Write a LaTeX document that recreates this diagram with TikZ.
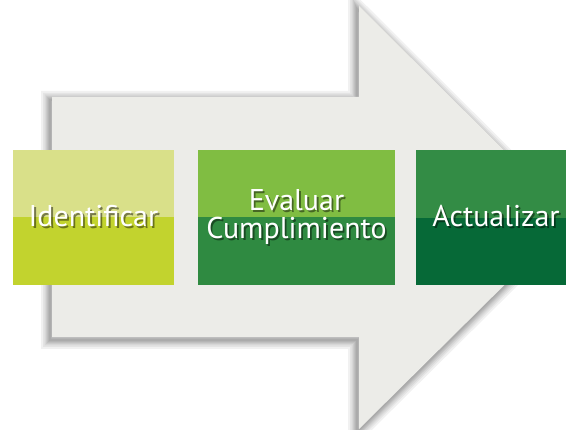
\documentclass[tikz,border=0pt]{standalone}
\usepackage{fontspec}
\setmainfont{PT Sans}
\definecolor{arrowfill}{HTML}{ECECE8}
\definecolor{aTop}{HTML}{D9E089}
\definecolor{aBot}{HTML}{C2D32E}
\definecolor{bTop}{HTML}{80BD42}
\definecolor{bBot}{HTML}{2F8A41}
\definecolor{cTop}{HTML}{338C45}
\definecolor{cBot}{HTML}{066937}
\newcommand\shadowtxt[1]{\makebox[0pt][l]{\kern1.8pt\raisebox{-1.8pt}{\pgfsetfillopacity{0.45}\textcolor{black}{#1}\pgfsetfillopacity{1}}}#1}
\tikzset{
  lbl/.style={text=white, font=\fontsize{30}{28}\selectfont, align=center, inner sep=0pt},
}
\begin{document}
\begin{tikzpicture}[x=1pt,y=-1pt]
\useasboundingbox (0,0) rectangle (566,430);
\def\arrowpath{(52,97) -- (359,97) -- (359,6) -- (572,218) -- (359,429) -- (359,337) -- (52,337) -- cycle}
% soft shadow
\begin{scope}[shift={(-2,3)}]
\foreach \w in {18,14,11,8,6,4,2}{
  \draw[line width=\w pt, draw=black, draw opacity=0.055, line join=miter] \arrowpath;
}
\end{scope}
\fill[arrowfill] \arrowpath;
% boxes
\fill[aTop] (13,150) rectangle (174,217);
\fill[aBot] (13,217) rectangle (174,285);
\fill[bTop] (198,150) rectangle (395,217);
\fill[bBot] (198,217) rectangle (395,285);
\fill[cTop] (416,150) rectangle (566,218);
\fill[cBot] (416,218) rectangle (566,285);
% labels
\node[lbl] (a) at (93.5,217) {\shadowtxt{Identificar}};
\node[lbl] (b) at (296.5,218) {\shadowtxt{Evaluar}\\\shadowtxt{Cumplimiento}};
\node[lbl] (c) at (496,217) {\shadowtxt{Actualizar}};
\end{tikzpicture}
\end{document}
